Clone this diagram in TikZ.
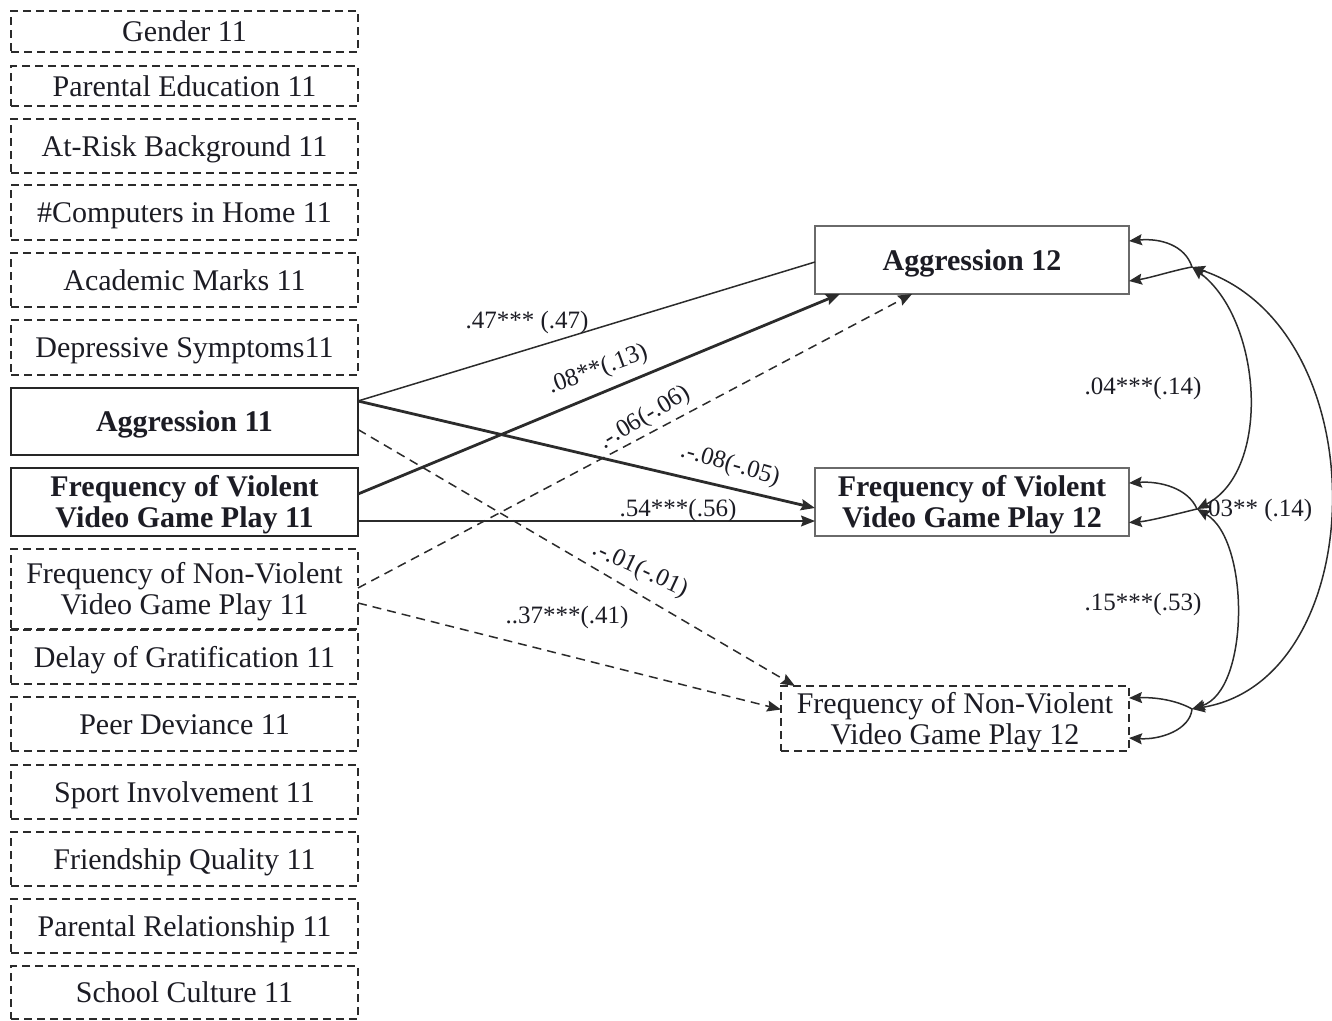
\documentclass[tikz,border=0pt]{standalone}
\usepackage{fontspec}
\setmainfont{Liberation Serif}
\usetikzlibrary{arrows.meta,calc}
\definecolor{ln}{HTML}{2B2B2B}
\definecolor{txt}{HTML}{1C1C24}
\definecolor{rbord}{HTML}{6A6A6A}
\begin{document}
\begin{tikzpicture}[x=1pt,y=-1pt,
  every node/.style={inner sep=0pt, outer sep=0pt, text=txt},
  box/.style={draw=ln, line width=1.6pt, dash pattern=on 8pt off 5pt, font=\fontsize{30}{31}\selectfont, minimum width=347pt, align=center},
  sbox/.style={draw=black!85, line width=1.8pt, font=\bfseries\fontsize{30}{31}\selectfont, minimum width=347pt, align=center},
  rbox/.style={draw=rbord, line width=1.8pt, font=\bfseries\fontsize{30}{31}\selectfont, minimum width=314pt, minimum height=68pt, align=center},
  oneline/.style={text height=21pt, text depth=1pt},
  twoline/.style={text height=52pt, text depth=1pt},
  lab/.style={font=\fontsize{25}{27}\selectfont},
  thinl/.style={draw=ln, line width=1.5pt},
  thickl/.style={draw=ln, line width=2.8pt},
  dashl/.style={draw=ln, line width=1.5pt, dash pattern=on 9pt off 6pt},
  arr/.style={-{Stealth[length=14pt,width=11pt,inset=2pt]}},
  arrtwo/.style={{Stealth[length=13pt,width=11pt,inset=2pt]}-{Stealth[length=13pt,width=11pt,inset=2pt]}}
]
\useasboundingbox (0,0) rectangle (1332,1020);

% left column
\node[box, oneline, minimum height=41pt] (gen) at (184.5,31.5) {Gender 11};
\node[box, oneline, minimum height=40pt] (pe) at (184.5,86) {Parental Education 11};
\node[box, oneline, minimum height=54pt] (arb) at (184.5,146) {At-Risk Background 11};
\node[box, oneline, minimum height=55pt] (comp) at (184.5,212.5) {\#Computers in Home 11};
\node[box, oneline, minimum height=54pt] (am) at (184.5,280) {Academic Marks 11};
\node[box, oneline, minimum height=55pt] (dep) at (184.5,347.5) {Depressive Symptoms11};
\node[sbox, oneline, minimum height=67pt] (agg11) at (184.5,421.5) {Aggression 11};
\node[sbox, twoline, minimum height=68pt] (fv11) at (184.5,502) {Frequency of Violent\\Video Game Play 11};
\node[box, twoline, minimum height=80pt] (fnv11) at (184.5,589) {Frequency of Non-Violent\\Video Game Play 11};
\node[box, oneline, minimum height=54pt] (del) at (184.5,657) {Delay of Gratification 11};
\node[box, oneline, minimum height=54pt] (peer) at (184.5,724) {Peer Deviance 11};
\node[box, oneline, minimum height=54pt] (sport) at (184.5,792) {Sport Involvement 11};
\node[box, oneline, minimum height=54pt] (friend) at (184.5,859) {Friendship Quality 11};
\node[box, oneline, minimum height=54pt] (prel) at (184.5,926) {Parental Relationship 11};
\node[box, oneline, minimum height=53pt] (school) at (184.5,992.5) {School Culture 11};

% right column
\node[rbox, oneline] (agg12) at (972,260) {Aggression 12};
\node[rbox, twoline] (fv12) at (972,502) {Frequency of Violent\\Video Game Play 12};
\node[box, twoline, minimum width=348pt, minimum height=65pt] (fnv12) at (955,718.5) {Frequency of Non-Violent\\Video Game Play 12};

\coordinate (p1) at (1192,267);
\coordinate (p2) at (1197,509);
\coordinate (p3) at (1192,709);

% paths
\draw[thinl] ([yshift=20.5pt]agg11.east) -- ([yshift=-2pt]agg12.west);
\draw[thickl, arr] ([yshift=8pt]fv11.east) -- ([xshift=25pt]agg12.south west);
\draw[dashl, arr] ([yshift=1pt]fnv11.east) -- ([xshift=97pt]agg12.south west);
\draw[thickl, arr] ([yshift=20.5pt]agg11.east) -- ([yshift=-6pt]fv12.west);
\draw[thinl, arr] ([yshift=-19pt]fv11.east) -- ([yshift=-19pt]fv12.west);
\draw[dashl, arr] ([yshift=-8pt]agg11.east) -- ([xshift=14pt]fnv12.north west);
\draw[dashl, arr] ([yshift=-14pt]fnv11.east) -- ([yshift=9pt]fnv12.west);

% variances
\draw[thinl, arrtwo] ([yshift=19pt]agg12.east) .. controls (1160,238) and (1185,245) .. (p1) .. controls (1175,270) and (1150,278) .. ([yshift=-21pt]agg12.east);
\draw[thinl, arrtwo] ([yshift=19pt]fv12.east) .. controls (1160,481) and (1188,488) .. (p2) .. controls (1180,513) and (1150,521) .. ([yshift=-20.5pt]fv12.east);
\draw[thinl, arrtwo] ([yshift=20.5pt]fnv12.east) .. controls (1160,697) and (1180,702) .. (p3) .. controls (1190,730) and (1160,740) .. ([yshift=-19.5pt]fnv12.east);

% covariances
\draw[thinl, arrtwo] (p1) .. controls (1262,320) and (1272,470) .. (p2);
\draw[thinl, arrtwo] (p2) .. controls (1250,540) and (1250,690) .. (p3);
\draw[thinl, arrtwo] (p1) .. controls (1380,330) and (1372,680) .. (p3);

% labels
\node[lab] (l1) at (527,322) {.47*** (.47)};
\node[lab, rotate=20] (l2) at (598,370) {.08**(.13)};
\node[lab, rotate=31] (l3) at (645,418) {.-.06(-.06)};
\node[lab, rotate=-16] (l4) at (730,465) {.-.08(-.05)};
\node[lab] (l5) at (678,510) {.54***(.56)};
\node[lab, rotate=-25] (l6) at (640,570) {.-.01(-.01)};
\node[lab] (l7) at (567,617) {..37***(.41)};
\node[lab] (l8) at (1143,388) {.04***(.14)};
\node[lab] (l9) at (1143,604) {.15***(.53)};
\node[lab] (l10) at (1257,510) {.03** (.14)};
\end{tikzpicture}
\end{document}
